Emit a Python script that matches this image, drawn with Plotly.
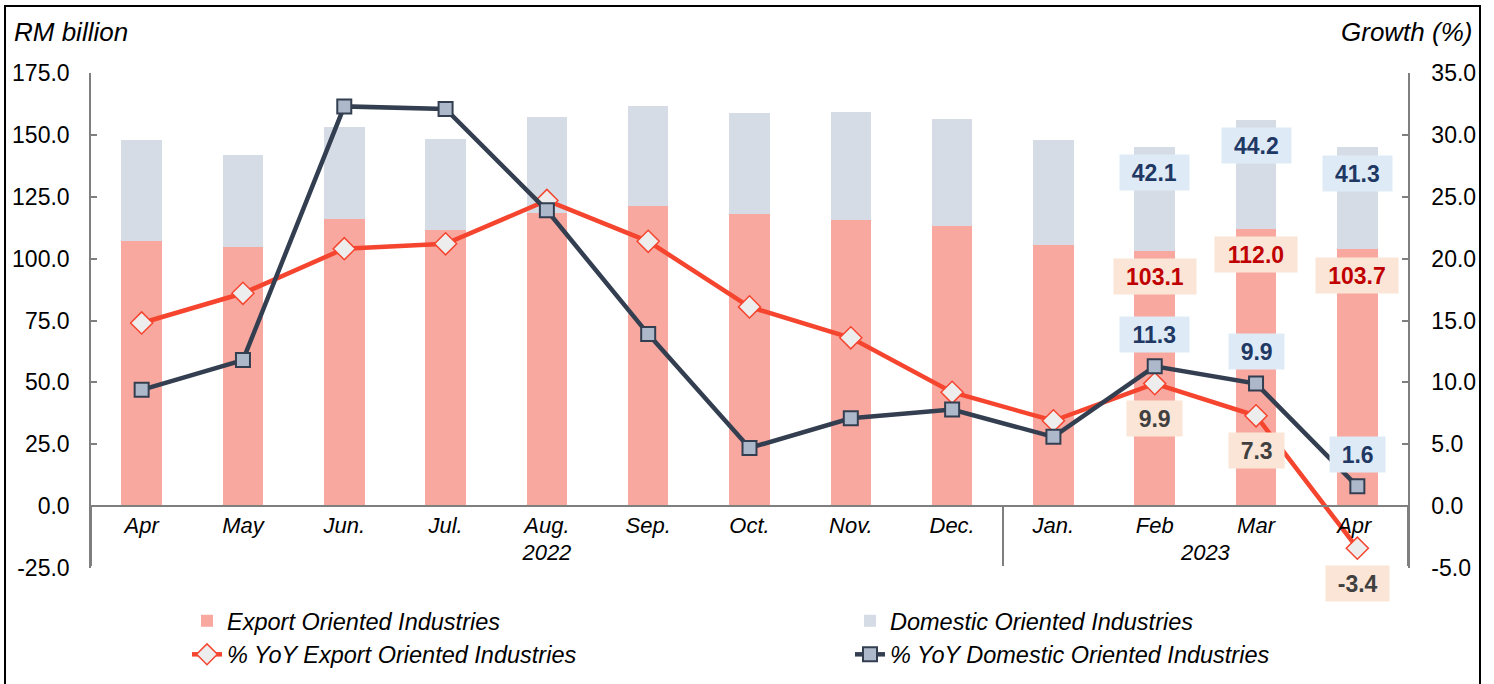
import plotly.graph_objects as go

# ---------------- data ----------------
months = ["Apr", "May", "Jun.", "Jul.", "Aug.", "Sep.", "Oct.", "Nov.", "Dec.",
          "Jan.", "Feb", "Mar", "Apr "]   # trailing space keeps the 2023 "Apr" distinct
years = ["2022"] * 9 + ["2023"] * 4
export_vals = [107.2, 104.8, 116.0, 111.4, 118.6, 121.4, 118.0, 115.6, 113.2,
               105.5, 103.1, 112.0, 103.7]
domestic_vals = [40.7, 37.1, 37.3, 36.9, 38.8, 40.3, 40.7, 43.5, 43.2,
                 42.4, 42.1, 44.2, 41.3]
export_yoy = [14.8, 17.2, 20.8, 21.2, 24.7, 21.4, 16.1, 13.6, 9.2,
              6.9, 9.9, 7.3, -3.4]
domestic_yoy = [9.4, 11.8, 32.3, 32.1, 23.9, 13.9, 4.7, 7.1, 7.8,
                5.6, 11.3, 9.9, 1.6]
labelled_idx = [10, 11, 12]   # months carrying data labels
y1_ticks = [-25, 0, 25, 50, 75, 100, 125, 150, 175]
y2_ticks = [-5, 0, 5, 10, 15, 20, 25, 30, 35]

# ---------------- styling ----------------
FONT = "Liberation Sans, Arial, sans-serif"
C_EXP_BAR = "#F9A8A0"
C_DOM_BAR = "#D6DCE5"
C_EXP_LINE = "#F5452F"
C_DOM_LINE = "#333F50"
W, H = 1494, 684
L, R, T, B = 91, 1408, 73, 568          # plot area in pixels
Y1 = (-25, 175)
Y2 = (-5, 35)

def px_x(p):
    return (p - L) / (R - L)

def px_y(p):
    return (B - p) / (B - T)

x = [years, months]

fig = go.Figure()
fig.add_bar(x=x, y=export_vals, name="Export Oriented Industries", legend="legend",
            marker=dict(color=C_EXP_BAR, line=dict(width=0)), width=0.4)
fig.add_bar(x=x, y=domestic_vals, name="Domestic Oriented Industries", legend="legend2",
            marker=dict(color=C_DOM_BAR, line=dict(width=0)), width=0.4)
fig.add_scatter(x=x, y=export_yoy, yaxis="y2", mode="lines+markers", legend="legend",
                name="% YoY Export Oriented Industries",
                line=dict(color=C_EXP_LINE, width=4.5),
                marker=dict(symbol="diamond", size=17, color="#EDEDED",
                            line=dict(color=C_EXP_LINE, width=1.5)))
fig.add_scatter(x=x, y=domestic_yoy, yaxis="y2", mode="lines+markers", legend="legend2",
                name="% YoY Domestic Oriented Industries",
                line=dict(color=C_DOM_LINE, width=4.5),
                marker=dict(symbol="square", size=14, color="#ADB9CA",
                            line=dict(color=C_DOM_LINE, width=2)))

def box_width(txt):
    w = 0
    for ch in txt:
        w += 6.7 if ch == "." else (8 if ch == "-" else 13.3)
    return w + 22

annotations = []
for i in labelled_idx:
    total = export_vals[i] + domestic_vals[i]
    specs = [
        (f"{export_vals[i]:.1f}", export_vals[i], "y", -26, "#C00000", "#FBE5D6"),
        (f"{domestic_vals[i]:.1f}", total, "y", -26, "#1F3864", "#DEEBF7"),
        (f"{domestic_yoy[i]:.1f}", domestic_yoy[i], "y2", 32, "#1F3864", "#DEEBF7"),
        (f"{export_yoy[i]:.1f}", export_yoy[i], "y2", -35, "#404040", "#FBE5D6"),
    ]
    for txt, yv, yref, shift, fc, bg in specs:
        annotations.append(dict(
            x=i, y=yv, xref="x", yref=yref, yshift=shift, text=f"<b>{txt}</b>",
            showarrow=False, bgcolor=bg, borderpad=0, width=box_width(txt), height=35,
            font=dict(family=FONT, size=23, color=fc)))

annotations.append(dict(x=px_x(12), y=px_y(32), xref="paper", yref="paper",
                        xanchor="left", yanchor="middle", showarrow=False,
                        text="RM billion",
                        font=dict(family=FONT, size=26, color="black", style="italic")))
annotations.append(dict(x=px_x(1474), y=px_y(32), xref="paper", yref="paper",
                        xanchor="right", yanchor="middle", showarrow=False,
                        text="Growth (%)",
                        font=dict(family=FONT, size=26, color="black", style="italic")))

zero_pos = (0 - Y1[0]) / (Y1[1] - Y1[0])
legend_style = dict(orientation="v", yanchor="top", xanchor="left",
                    font=dict(family=FONT, size=23.5, style="italic"),
                    bgcolor="rgba(0,0,0,0)", traceorder="normal")

fig.update_layout(
    width=W, height=H,
    margin=dict(l=L, r=W - R, t=T, b=H - B, autoexpand=False),
    paper_bgcolor="white", plot_bgcolor="white",
    barmode="stack",
    font=dict(family=FONT, size=22, color="black"),
    xaxis=dict(type="multicategory", anchor="free", position=zero_pos,
               range=[-0.5, len(months) - 0.5], autorange=False,
               showline=True, linecolor="#7F7F7F", linewidth=1.5,
               ticks="", showgrid=False, showdividers=True,
               dividercolor="#7F7F7F", dividerwidth=1.5,
               tickfont=dict(family=FONT, size=22, style="italic")),
    yaxis=dict(range=list(Y1), tickvals=y1_ticks,
               ticktext=[f"{v:.1f}" for v in y1_ticks], showgrid=False,
               zeroline=False, showline=True, linecolor="#7F7F7F", linewidth=1.5,
               ticks="inside", ticklen=6, tickcolor="#7F7F7F", tickwidth=1.5,
               ticklabelstandoff=15, tickfont=dict(family=FONT, size=23)),
    yaxis2=dict(range=list(Y2), tickvals=y2_ticks,
                ticktext=[f"{v:.1f}" for v in y2_ticks], showgrid=False,
                zeroline=False, overlaying="y", side="right",
                showline=True, linecolor="#7F7F7F", linewidth=1.5,
                ticks="inside", ticklen=6, tickcolor="#7F7F7F", tickwidth=1.5,
                ticklabelstandoff=17, tickfont=dict(family=FONT, size=23)),
    legend=dict(x=px_x(187), y=px_y(599), **legend_style),
    legend2=dict(x=px_x(850), y=px_y(599), **legend_style),
    annotations=annotations,
    shapes=[dict(type="rect", xref="paper", yref="paper",
                 x0=px_x(5), x1=px_x(1480), y0=px_y(720), y1=px_y(6),
                 line=dict(color="black", width=2), fillcolor="rgba(0,0,0,0)",
                 layer="above")],
    showlegend=True,
)

fig.write_html("out.html")
